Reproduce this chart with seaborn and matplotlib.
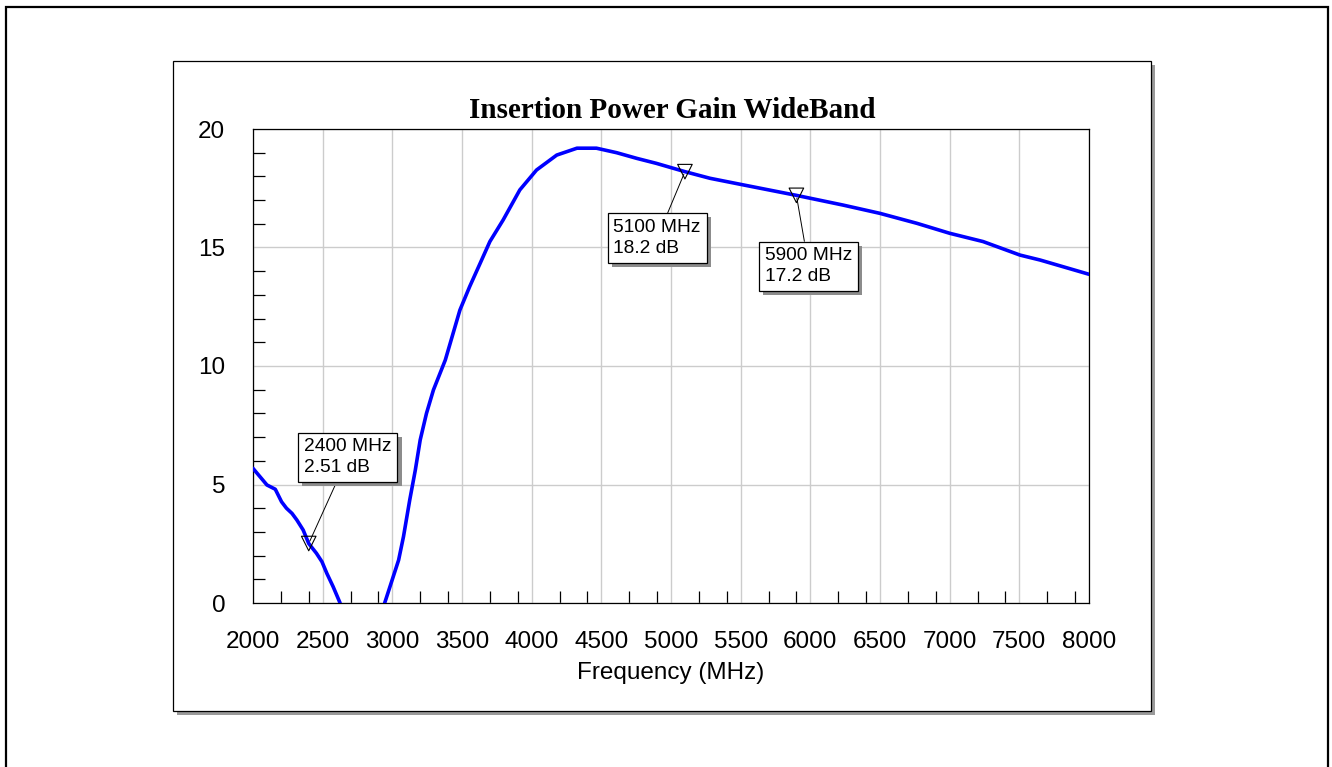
import pandas as pd
import seaborn as sns
import matplotlib.pyplot as plt
from matplotlib.patches import Rectangle
from matplotlib.ticker import MultipleLocator, FixedLocator
from matplotlib import patheffects

# gain curve (two visible branches above 0 dB)
freq_low = [2000, 2100, 2160, 2205, 2240, 2280, 2315, 2360, 2400, 2455, 2495, 2530, 2575, 2625]
gain_low = [5.68, 4.98, 4.80, 4.27, 4.00, 3.78, 3.50, 3.08, 2.51, 2.10, 1.74, 1.25, 0.69, 0.0]

freq_high = [2945, 3045, 3080, 3125, 3165, 3200, 3245, 3295, 3380, 3485, 3555, 3630, 3700,
             3795, 3915, 4035, 4180, 4325, 4465, 4610, 4755, 4895, 5100, 5280, 5520, 5900,
             6235, 6500, 6765, 7000, 7240, 7505, 7650, 8000]
gain_high = [0.0, 1.81, 2.80, 4.35, 5.61, 6.88, 8.00, 8.99, 10.25, 12.36, 13.35, 14.33, 15.25,
             16.16, 17.43, 18.27, 18.90, 19.19, 19.19, 19.00, 18.76, 18.55, 18.20, 17.92, 17.64, 17.20,
             16.79, 16.44, 16.02, 15.60, 15.25, 14.68, 14.47, 13.87]

marker_freq = [2400, 5100, 5900]
marker_gain = [2.51, 18.2, 17.2]
marker_text = ["2400 MHz\n2.51 dB", "5100 MHz\n18.2 dB", "5900 MHz\n17.2 dB"]
label_pos = [(2366, 6.95), (4587, 16.2), (5675, 15.0)]

df = pd.concat([
    pd.DataFrame({'freq': freq_low, 'gain': gain_low, 'seg': 'a'}),
    pd.DataFrame({'freq': freq_high, 'gain': gain_high, 'seg': 'b'}),
])

sns.set_style("white")
plt.rcParams['font.family'] = ['Liberation Sans', 'DejaVu Sans']
plt.rcParams['text.color'] = 'black'
plt.rcParams['axes.labelcolor'] = 'black'

fig = plt.figure(figsize=(13.32, 7.67), dpi=100)
W, H = 1332, 767

# outer frame + panel with drop shadow
fig.add_artist(Rectangle((6 / W, -0.05), 1322 / W, 1.05 - 7 / H, transform=fig.transFigure,
                         fill=False, ec='black', lw=1.6, zorder=-5))
fig.add_artist(Rectangle((177 / W, 1 - 715 / H), 978 / W, 650 / H, transform=fig.transFigure,
                         fc='#9a9a9a', ec='none', zorder=-4))
fig.add_artist(Rectangle((173 / W, 1 - 711 / H), 978 / W, 650 / H, transform=fig.transFigure,
                         fc='white', ec='black', lw=0.9, zorder=-3))

ax = fig.add_axes([253 / W, 1 - 603 / H, 836 / W, 474 / H])
ax.set_facecolor('white')

sns.lineplot(data=df, x='freq', y='gain', units='seg', estimator=None, color='#0000ff',
             lw=2.6, ax=ax, zorder=3)
sns.scatterplot(x=marker_freq, y=marker_gain, marker='v', s=110, fc='none', ec='black',
                linewidth=0.8, ax=ax, zorder=4)

for fx, gy, txt, pos in zip(marker_freq, marker_gain, marker_text, label_pos):
    t = ax.annotate(txt, xy=(fx, gy), xytext=pos, ha='left', va='top', fontsize=13.8,
                    linespacing=1.3, zorder=6, color='black',
                    bbox=dict(boxstyle='square,pad=0.3', fc='white', ec='black', lw=0.9),
                    arrowprops=dict(arrowstyle='-', color='black', lw=0.7, shrinkA=0, shrinkB=2))
    t.get_bbox_patch().set_path_effects([
        patheffects.SimplePatchShadow(offset=(3, -3), shadow_rgbFace='#8c8c8c', alpha=1),
        patheffects.Normal()])

ax.set_xlim(2000, 8000)
ax.set_ylim(0, 20)
ax.xaxis.set_major_locator(MultipleLocator(500))
ax.yaxis.set_major_locator(MultipleLocator(5))
minor_x = [m + d for m in range(2000, 8000, 500) for d in (200, 400)]
ax.xaxis.set_minor_locator(FixedLocator(minor_x))
ax.yaxis.set_minor_locator(MultipleLocator(1))
ax.grid(True, which='major', color='#cccccc', lw=1.0)
ax.set_axisbelow(True)
ax.tick_params(which='major', length=0, labelsize=17.5, pad=20, colors='black')
ax.tick_params(which='minor', direction='in', length=8.5, width=0.9, color='black')
ax.tick_params(axis='x', which='minor', top=False, bottom=True)
ax.tick_params(axis='y', which='minor', left=True, right=False)
for s in ax.spines.values():
    s.set_visible(True)
    s.set_color('black')
    s.set_linewidth(0.9)

ax.set_xlabel("Frequency (MHz)", fontsize=17.5, labelpad=7, color='black')
ax.set_ylabel("")
fig.text(672 / W, 1 - 110 / H, "Insertion Power Gain WideBand", ha='center', va='center',
         fontsize=21, fontweight='bold', color='black',
         family=['Liberation Serif', 'DejaVu Serif'])

fig.savefig("out.png", dpi=100)
